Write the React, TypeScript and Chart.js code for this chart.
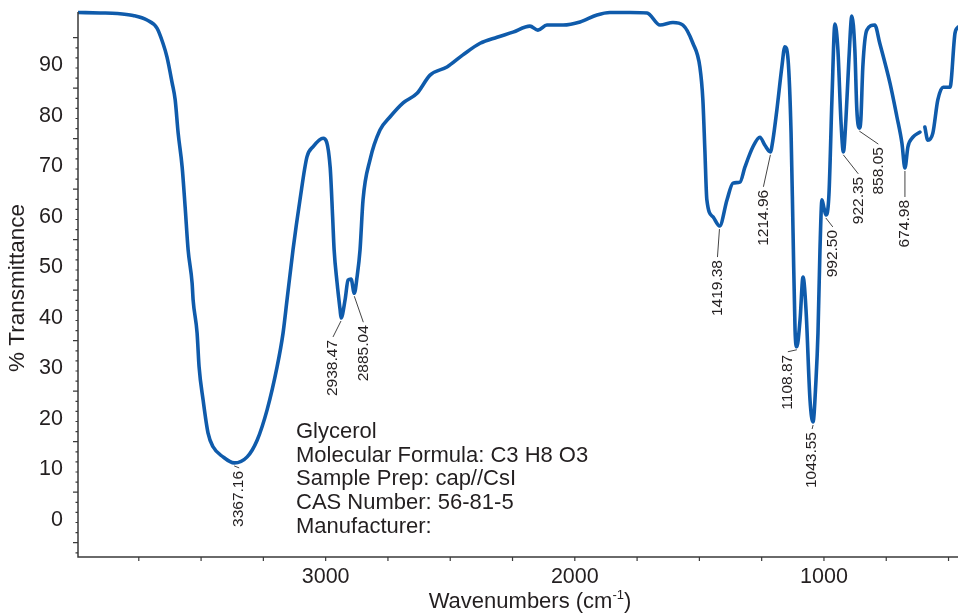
import React, { useEffect, useRef } from 'react';
import { Chart, registerables } from 'chart.js';

Chart.register(...registerables);

// ---- Spectrum data (wavenumber in cm^-1, % transmittance) ----
const wavenumbers = [
  3994, 3905, 3837, 3773, 3717, 3677, 3653, 3637, 3616, 3604, 3592, 3576, 3564, 3552, 3536, 3532,
  3516, 3508, 3492, 3472, 3452, 3412, 3367, 3315, 3275, 3235, 3195, 3171, 3155, 3131, 3103, 3075,
  3051, 3010, 2982, 2972, 2966, 2954, 2942, 2938, 2922, 2910, 2898, 2885, 2874, 2862, 2850, 2822,
  2782, 2742, 2689, 2633, 2581, 2513, 2449, 2380, 2312, 2248, 2180, 2148, 2112, 2047, 1979, 1911,
  1859, 1778, 1710, 1658, 1606, 1566, 1526, 1498, 1486, 1478, 1470, 1445, 1419, 1389, 1365, 1337,
  1317, 1285, 1257, 1237, 1215, 1205, 1189, 1169, 1157, 1144, 1132, 1124, 1116, 1109, 1096, 1084,
  1072, 1056, 1044, 1032, 1024, 1016, 1008, 1000, 992, 980, 968, 956, 944, 932, 922, 912,
  900, 888, 876, 868, 858, 852, 844, 828, 796, 776, 735, 707, 687, 675, 663, 643,
  615, 607, 595, 583, 563, 543, 522, 494, 474, 462,
];
const transmittance = [
  101.0, 100.9, 100.8, 100.4, 99.5, 97.9, 94.9, 92.2, 87.0, 83.7, 77.1, 70.4, 62.5, 54.0, 47.4, 44.1,
  37.5, 30.8, 24.3, 17.7, 15.0, 13.0, 11.8, 13.0, 16.3, 22.3, 30.8, 37.5, 44.1, 54.0, 63.9, 72.4,
  74.4, 76.1, 70.4, 60.5, 54.0, 47.4, 42.1, 40.5, 44.1, 48.0, 48.2, 45.4, 48.6, 54.0, 63.9, 71.8,
  77.7, 80.3, 83.1, 85.0, 88.6, 90.2, 92.6, 94.9, 96.1, 97.1, 98.3, 97.5, 98.5, 98.5, 99.1, 100.5,
  101.0, 101.0, 100.9, 98.5, 99.0, 98.5, 94.9, 90.2, 83.7, 73.8, 63.9, 60.5, 58.7, 63.9, 67.2, 67.4,
  70.4, 74.4, 76.3, 74.7, 73.4, 75.7, 81.7, 90.2, 94.2, 91.6, 77.1, 57.3, 38.1, 34.8, 40.1, 48.6,
  42.1, 24.3, 19.9, 28.2, 37.5, 54.0, 63.9, 62.3, 60.9, 64.9, 83.7, 98.7, 93.6, 79.7, 73.4, 79.7,
  91.6, 100.3, 93.6, 81.7, 78.1, 79.7, 90.2, 97.5, 98.5, 94.9, 87.0, 80.3, 75.1, 70.2, 74.4, 76.3,
  77.3, null, 78.3, 75.7, 77.1, 83.7, 86.2, 86.2, 96.9, 98.1,
];

// ---- Peak annotations ----
const peakWavenumbers = [3367.16, 2938.47, 2885.04, 1419.38, 1214.96, 1108.87, 1043.55, 992.5, 922.35, 858.05, 674.98];
const peakTransmittance = [11.8, 40.5, 45.4, 58.7, 73.4, 34.8, 19.9, 60.9, 73.4, 78.1, 70.2];
// offset (px) of the label's upper end from the peak point
const peakLabelOffsets: [number, number][] = [
  [5, 8], [-8, 22], [9, 32], [-2, 34], [-7, 38], [-9, 8], [-1, 10], [7, 15], [15, 25], [19, 19], [0, 32],
];

// ---- Axes ----
const xTickLabels = [3000, 2000, 1000];
const yTickLabels = [0, 10, 20, 30, 40, 50, 60, 70, 80, 90];
const xMinorTicks = [500, 750, 1000, 1250, 1500, 1750, 2000, 2250, 2500, 2750, 3000, 3250, 3500, 3750];
const yMinorTicks = [-6, -4, -2, 0, 2, 4, 6, 8, 10, 12, 14, 16, 18, 20, 22, 24, 26, 28, 30, 32, 34, 36, 38, 40, 42, 44, 46, 48, 50, 52, 54, 56, 58, 60, 62, 64, 66, 68, 70, 72, 74, 76, 78, 80, 82, 84, 86, 88, 90, 92, 94, 96];
const yMajorTicks = [-4, 6, 16, 26, 36, 46, 56, 66, 76, 86, 96];

const infoLines = [
  'Glycerol',
  'Molecular Formula: C3 H8 O3',
  'Sample Prep: cap//CsI',
  'CAS Number: 56-81-5',
  'Manufacturer:',
];

const FONT = "'Liberation Sans', Arial, Helvetica, sans-serif";
const TEXT = '#231f20';
const LINE = '#0f5bab';

const decorPlugin = {
  id: 'decor',
  afterDatasetsDraw(chart: any) {
    const { ctx, chartArea } = chart;
    const xs = chart.scales.x;
    const ys = chart.scales.y;
    ctx.save();
    // axes
    ctx.strokeStyle = '#3a3a3a';
    ctx.lineWidth = 1.5;
    ctx.beginPath();
    ctx.moveTo(chartArea.left, chartArea.top + 4);
    ctx.lineTo(chartArea.left, chartArea.bottom);
    ctx.lineTo(chartArea.right, chartArea.bottom);
    ctx.stroke();
    ctx.lineWidth = 1.2;
    ctx.beginPath();
    for (const v of yMinorTicks) {
      const py = ys.getPixelForValue(v);
      const len = yMajorTicks.includes(v) ? 5 : 2.5;
      ctx.moveTo(chartArea.left, py);
      ctx.lineTo(chartArea.left - len, py);
    }
    for (const v of xMinorTicks) {
      const px = xs.getPixelForValue(v);
      ctx.moveTo(px, chartArea.bottom);
      ctx.lineTo(px, chartArea.bottom + 4);
    }
    ctx.stroke();

    // peak labels
    ctx.strokeStyle = '#444';
    ctx.lineWidth = 1;
    ctx.fillStyle = TEXT;
    ctx.font = `15.5px ${FONT}`;
    peakWavenumbers.forEach((w, i) => {
      const px = xs.getPixelForValue(w);
      const py = ys.getPixelForValue(peakTransmittance[i]);
      const [dx, dy] = peakLabelOffsets[i];
      const lx = px + dx;
      const ly = py + dy;
      if (Math.hypot(dx, dy) > 9) {
        ctx.beginPath();
        ctx.moveTo(px, py + 3);
        ctx.lineTo(lx, ly - 3);
        ctx.stroke();
      }
      ctx.save();
      ctx.translate(lx, ly);
      ctx.rotate(-Math.PI / 2);
      ctx.textAlign = 'right';
      ctx.textBaseline = 'middle';
      ctx.fillText(w.toFixed(2), 0, 0);
      ctx.restore();
    });

    // info block
    ctx.font = `22px ${FONT}`;
    ctx.textAlign = 'left';
    ctx.textBaseline = 'alphabetic';
    infoLines.forEach((t, i) => {
      ctx.fillText(t, 296, 438 + i * 23.7);
    });

    // axis titles
    ctx.font = `22px ${FONT}`;
    const base = 'Wavenumbers (cm';
    const wBase = ctx.measureText(base).width;
    ctx.font = `13px ${FONT}`;
    const sup = '-1';
    const wSup = ctx.measureText(sup).width;
    ctx.font = `22px ${FONT}`;
    const wClose = ctx.measureText(')').width;
    const total = wBase + wSup + wClose;
    const startX = 530 - total / 2;
    ctx.fillText(base, startX, 608);
    ctx.font = `13px ${FONT}`;
    ctx.fillText(sup, startX + wBase, 599);
    ctx.font = `22px ${FONT}`;
    ctx.fillText(')', startX + wBase + wSup, 608);

    ctx.save();
    ctx.font = `22.5px ${FONT}`;
    ctx.translate(18, 288);
    ctx.rotate(-Math.PI / 2);
    ctx.textAlign = 'center';
    ctx.textBaseline = 'middle';
    ctx.fillText('% Transmittance', 0, 0);
    ctx.restore();

    ctx.restore();
  },
};

const zeroPadding = (s: any) => {
  s.paddingTop = 0;
  s.paddingBottom = 0;
  s.paddingLeft = 0;
  s.paddingRight = 0;
};

export default function App() {
  const ref = useRef<HTMLCanvasElement | null>(null);
  useEffect(() => {
    if (!ref.current) return;
    const points = wavenumbers.map((w, i) => ({ x: w, y: transmittance[i] }));
    const chart = new Chart(ref.current, {
      type: 'line',
      data: {
        datasets: [
          {
            data: points as any,
            borderColor: LINE,
            borderWidth: 3.6,
            pointRadius: 0,
            tension: 0,
            cubicInterpolationMode: 'monotone',
            spanGaps: false,
            borderJoinStyle: 'round',
            borderCapStyle: 'round',
          },
        ],
      },
      options: {
        animation: false,
        responsive: false,
        parsing: false as any,
        normalized: true,
        layout: { padding: { top: 8, left: 0, right: 0, bottom: 0 } },
        plugins: { legend: { display: false }, tooltip: { enabled: false } },
        scales: {
          x: {
            type: 'linear',
            reverse: true,
            min: 462,
            max: 3994,
            grid: { display: false, drawTicks: false },
            border: { display: false },
            ticks: {
              color: TEXT,
              font: { family: FONT, size: 21.5 },
              padding: 7,
              autoSkip: false,
              maxRotation: 0,
              callback: (v: any) => String(v),
            },
            afterBuildTicks: (s: any) => {
              s.ticks = xTickLabels.map((v) => ({ value: v }));
            },
            afterFit: (s: any) => {
              s.height = 58;
              zeroPadding(s);
            },
          },
          y: {
            type: 'linear',
            min: -6.83,
            max: 101.88,
            grid: { display: false, drawTicks: false },
            border: { display: false },
            ticks: {
              color: TEXT,
              font: { family: FONT, size: 21.5 },
              padding: 15,
              labelOffset: -2.5,
              autoSkip: false,
              callback: (v: any) => String(v),
            },
            afterBuildTicks: (s: any) => {
              s.ticks = yTickLabels.map((v) => ({ value: v }));
            },
            afterFit: (s: any) => {
              s.width = 78;
              zeroPadding(s);
            },
          },
        },
      },
      plugins: [decorPlugin],
    });
    return () => chart.destroy();
  }, []);
  return (
    <div style={{ position: 'fixed', left: 0, top: 0, width: 958, height: 615, background: '#fff' }}>
      <canvas ref={ref} width={958} height={615} style={{ display: 'block', width: 958, height: 615 }} />
    </div>
  );
}
